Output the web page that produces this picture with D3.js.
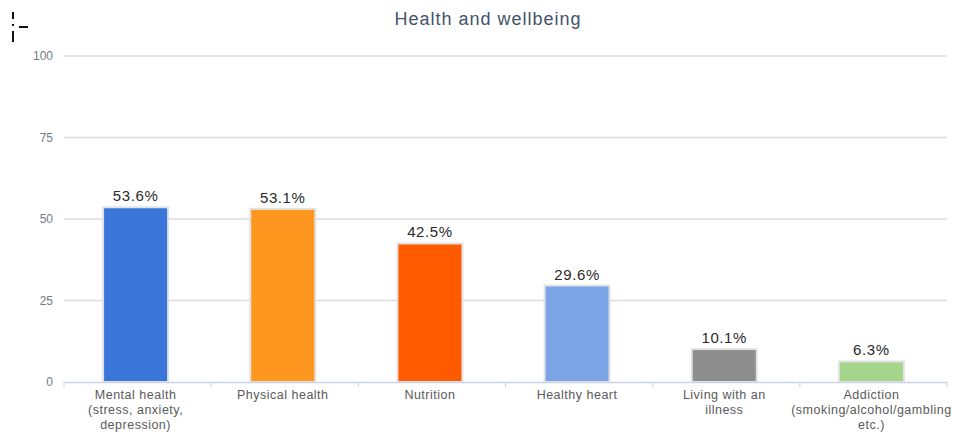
<!DOCTYPE html>
<html>
<head>
<meta charset="utf-8">
<script src="https://cdn.jsdelivr.net/npm/d3@7"></script>
<style>
  body { margin: 0; background: #fff; }
  text { font-family: "Liberation Sans", Arial, sans-serif; }
</style>
</head>
<body>
<svg id="chart" width="958" height="438"></svg>
<script>
// data
const categories = [
    ["Mental health", "(stress, anxiety,", "depression)"],
    ["Physical health"],
    ["Nutrition"],
    ["Healthy heart"],
    ["Living with an", "illness"],
    ["Addiction", "(smoking/alcohol/gambling", "etc.)"]
];
const values = [53.6, 53.1, 42.5, 29.6, 10.1, 6.3];
const colors = ["#3a75d9", "#ff961f", "#ff5a00", "#7ba4e7", "#8e8e8e", "#a3d68a"];
const yTicks = [0, 25, 50, 75, 100];

const svg = d3.select("#chart");
const plotLeft = 64, plotRight = 947, plotTop = 56, plotBottom = 382;

const x = d3.scaleBand()
    .domain(d3.range(categories.length))
    .range([plotLeft, plotRight])
    .paddingInner(0)
    .paddingOuter(0);

const y = d3.scaleLinear()
    .domain([0, 100])
    .range([plotBottom, plotTop]);

// title
svg.append("text")
    .attr("x", 488)
    .attr("y", 25)
    .attr("text-anchor", "middle")
    .attr("fill", "#44536a")
    .style("font-size", "18px")
    .style("letter-spacing", "1px")
    .text("Health and wellbeing");

// odd marker top left
const mk = svg.append("g").attr("stroke", "#111").attr("stroke-width", 2);
mk.append("line").attr("x1", 13).attr("x2", 13).attr("y1", 12).attr("y2", 19);
mk.append("line").attr("x1", 13).attr("x2", 13).attr("y1", 24).attr("y2", 26);
mk.append("line").attr("x1", 13).attr("x2", 13).attr("y1", 31).attr("y2", 42);
mk.append("line").attr("x1", 19).attr("x2", 28).attr("y1", 27).attr("y2", 27);

// gridlines
svg.append("g")
    .selectAll("line")
    .data(yTicks.filter(d => d > 0))
    .enter()
    .append("line")
    .attr("x1", plotLeft)
    .attr("x2", plotRight)
    .attr("y1", d => y(d))
    .attr("y2", d => y(d))
    .attr("stroke", "#dcdcdc")
    .attr("stroke-width", 1.5);

// y axis labels
svg.append("g")
    .selectAll("text")
    .data(yTicks)
    .enter()
    .append("text")
    .attr("x", 53)
    .attr("y", d => y(d) + 4)
    .attr("text-anchor", "end")
    .attr("fill", "#707a88")
    .style("font-size", "12px")
    .text(d => d);

// bars
const bw = 65;
svg.append("g")
    .selectAll("rect")
    .data(values)
    .enter()
    .append("rect")
    .attr("x", (d, i) => x(i) + x.bandwidth() / 2 - bw / 2 - 2)
    .attr("y", d => y(d))
    .attr("width", bw)
    .attr("height", d => plotBottom - y(d))
    .attr("fill", (d, i) => colors[i])
    .attr("stroke", "#e2e2e2")
    .attr("stroke-width", 2);

// value labels
svg.append("g")
    .selectAll("text")
    .data(values)
    .enter()
    .append("text")
    .attr("x", (d, i) => x(i) + x.bandwidth() / 2 - 2)
    .attr("y", d => y(d) - 6)
    .attr("text-anchor", "middle")
    .attr("fill", "#2a2a2a")
    .style("font-size", "15px")
    .style("letter-spacing", "0.6px")
    .text(d => d.toFixed(1) + "%");

// x axis
const xAxis = d3.axisBottom(x).tickSize(0).tickFormat("");
const ax = svg.append("g")
    .attr("transform", "translate(0," + plotBottom + ")")
    .call(xAxis);
ax.select(".domain").attr("stroke", "#c9d3e3").attr("stroke-width", 1.5);

// boundary ticks
svg.append("g")
    .selectAll("line")
    .data(d3.range(categories.length + 1))
    .enter()
    .append("line")
    .attr("x1", i => plotLeft + i * x.bandwidth())
    .attr("x2", i => plotLeft + i * x.bandwidth())
    .attr("y1", plotBottom)
    .attr("y2", plotBottom + 5)
    .attr("stroke", "#c9d3e3")
    .attr("stroke-width", 1);

// category labels
const cl = svg.append("g")
    .selectAll("text")
    .data(categories)
    .enter()
    .append("text")
    .attr("x", (d, i) => x(i) + x.bandwidth() / 2 - 2)
    .attr("y", 399)
    .attr("text-anchor", "middle")
    .attr("fill", "#5a5a5a")
    .style("font-size", "12.5px")
    .style("letter-spacing", "0.5px");

cl.selectAll("tspan")
    .data(d => d)
    .enter()
    .append("tspan")
    .attr("x", function () { return d3.select(this.parentNode).attr("x"); })
    .attr("dy", (d, i) => i === 0 ? 0 : 15)
    .text(d => d);
</script>
</body>
</html>
